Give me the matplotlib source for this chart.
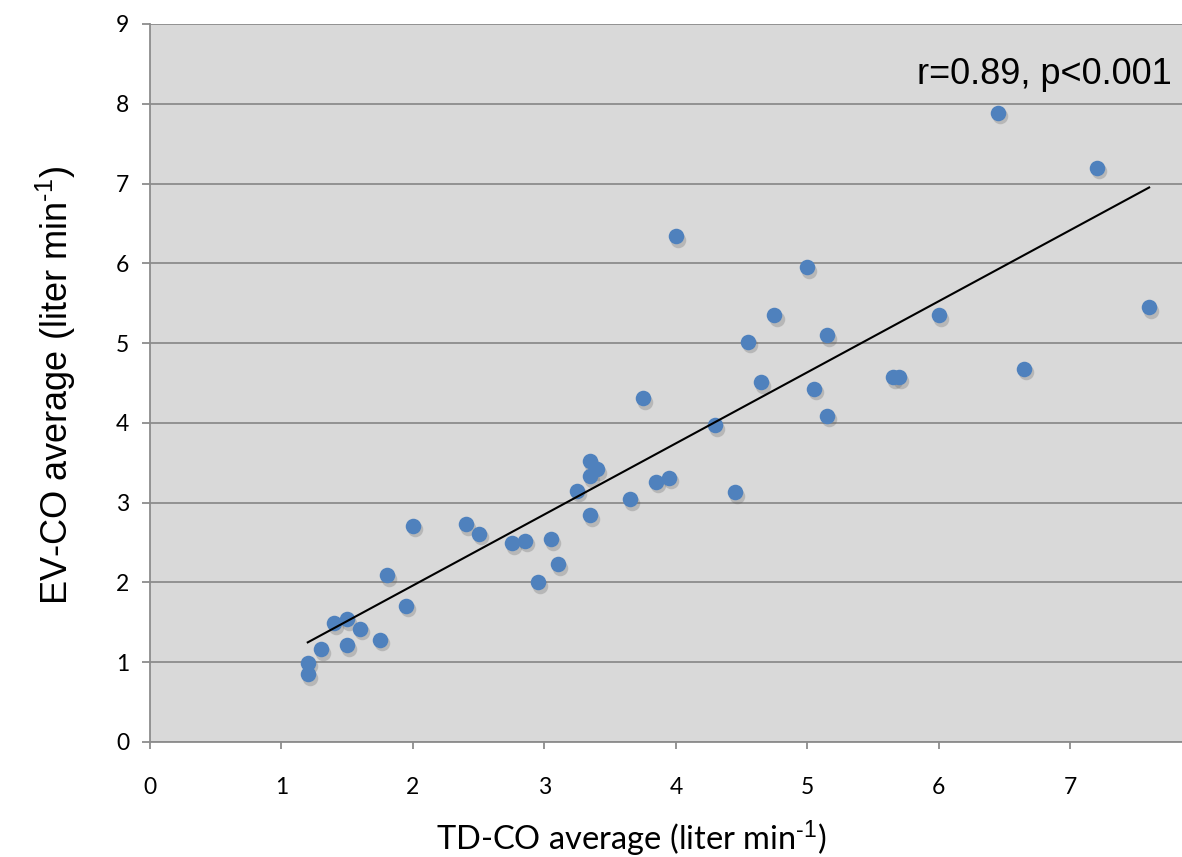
import numpy as np
import matplotlib
matplotlib.use("Agg")
import matplotlib.pyplot as plt
import matplotlib.transforms as mtransforms

# TD-CO vs EV-CO averages (liter/min)
td_co = [1.2, 1.2, 1.3, 1.4, 1.5, 1.5, 1.6, 1.75, 1.8, 1.95,
         2.0, 2.4, 2.5, 2.75, 2.85, 2.95, 3.05, 3.1, 3.25, 3.35,
         3.35, 3.4, 3.35, 3.65, 3.75, 3.85, 3.95, 4.0, 4.3, 4.45,
         4.55, 4.65, 4.75, 5.0, 5.05, 5.15, 5.15, 5.65, 5.7, 6.0,
         6.45, 6.65, 7.2, 7.6]
ev_co = [0.85, 0.99, 1.16, 1.49, 1.54, 1.21, 1.42, 1.28, 2.09, 1.71,
         2.71, 2.73, 2.61, 2.49, 2.52, 2.0, 2.54, 2.23, 3.15, 2.84,
         3.52, 3.42, 3.33, 3.04, 4.31, 3.26, 3.31, 6.34, 3.97, 3.13,
         5.02, 4.51, 5.35, 5.95, 4.43, 5.10, 4.09, 4.57, 4.57, 5.35,
         7.89, 4.68, 7.20, 5.45]
x_ticks = [0, 1, 2, 3, 4, 5, 6, 7]
y_ticks = [0, 1, 2, 3, 4, 5, 6, 7, 8, 9]
stat_label = "r=0.89, p<0.001"
unit = r"(liter min$^{\text{-1}}$)"

plt.rcParams["mathtext.fontset"] = "custom"
plt.rcParams["mathtext.rm"] = "Liberation Sans"
plt.rcParams["mathtext.it"] = "Liberation Sans"

fig = plt.figure(figsize=(11.82, 8.57), dpi=100)
ax = fig.add_axes([150 / 1182, 1 - 742 / 857, 1 - 150 / 1182, (742 - 24) / 857])
ax.set_facecolor("#d9d9d9")

ax.set_xlim(0, 7.85)
ax.set_ylim(0, 9)
ax.set_xticks(x_ticks)
ax.set_yticks(y_ticks)
ax.grid(axis="y", color="#8c8c8c", linewidth=1.3)
ax.set_axisbelow(True)

for side in ("top", "right"):
    ax.spines[side].set_visible(False)
for side in ("left", "bottom"):
    ax.spines[side].set_color("#8c8c8c")
    ax.spines[side].set_linewidth(1.3)

ax.tick_params(axis="x", direction="out", length=5, width=1.3, color="#8c8c8c", pad=20)
ax.tick_params(axis="y", direction="out", length=6, width=1.3, color="#8c8c8c", pad=9)
for lbl in ax.get_xticklabels() + ax.get_yticklabels():
    lbl.set_fontfamily("Lato")
    lbl.set_fontsize(16.5)

# marker shadow, then markers
shadow = mtransforms.offset_copy(ax.transData, fig=fig, x=1.5, y=-2.5, units="points")
ax.scatter(td_co, ev_co, s=125, color="#555555", alpha=0.25, linewidths=0,
           transform=shadow, zorder=2)
ax.scatter(td_co, ev_co, s=125, color="#4f81bd", linewidths=0, zorder=3)

# linear trend line
slope, intercept = np.polyfit(td_co, ev_co, 1)
xs = np.array([min(td_co), max(td_co)])
ax.plot(xs, slope * xs + intercept, color="black", linewidth=1.5, zorder=4)

ax.text(7.77, 8.25, stat_label, ha="right", va="baseline",
        fontsize=26, family="Liberation Sans", zorder=5)

fig.text(631 / 1182, 1 - 850 / 857, "TD-CO average " + unit, ha="center", va="baseline",
         fontsize=23.5, family="Lato")
fig.text(68 / 1182, 1 - 385 / 857, "EV-CO average " + unit, ha="center", va="baseline",
         rotation=90, rotation_mode="anchor", fontsize=26, family="Liberation Sans")

fig.savefig("out.png", dpi=100)
